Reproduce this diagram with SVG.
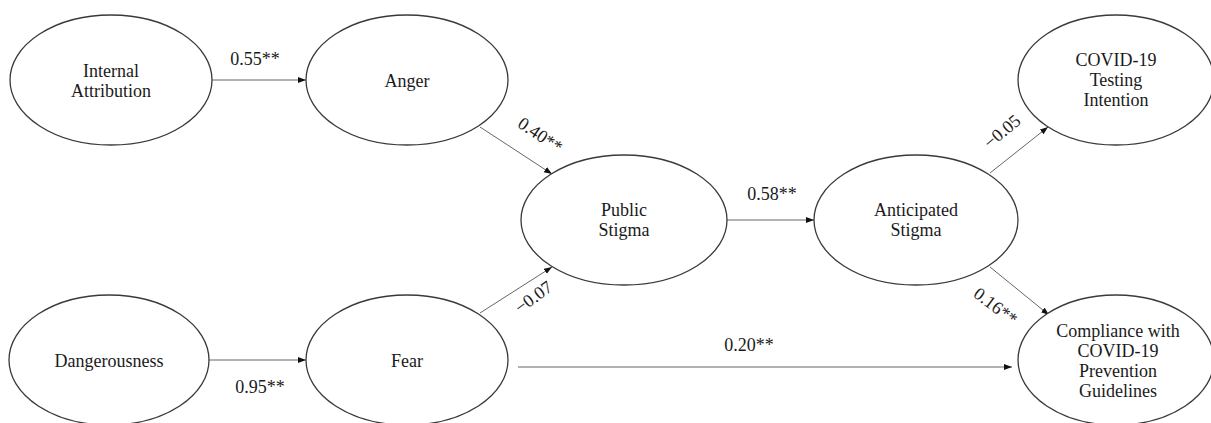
<svg xmlns="http://www.w3.org/2000/svg" width="1211" height="423" viewBox="0 0 1211 423">
<style>
.node ellipse{fill:#fff;stroke:#3a3a3a;stroke-width:1.3}
.node text{font-family:"Liberation Serif","Times New Roman",serif;font-size:18px;fill:#1a1a1a;text-anchor:middle}
.lbl{font-family:"Liberation Serif","Times New Roman",serif;font-size:18px;fill:#1a1a1a;text-anchor:middle}
.edge{stroke:#666;stroke-width:1;fill:none;marker-end:url(#arr)}
</style>
<defs>
<marker id="arr" markerWidth="9" markerHeight="7" refX="8" refY="3" orient="auto" markerUnits="userSpaceOnUse">
<path d="M0,0 L8,3 L0,6 z" fill="#111"/>
</marker>
</defs>
<rect width="1211" height="423" fill="#fff"/>
<g id="connectors">
<line class="edge" x1="212" y1="80" x2="306" y2="80"/>
<line class="edge" x1="209" y1="360" x2="306" y2="360"/>
<line class="edge" x1="480" y1="127" x2="552" y2="174"/>
<line class="edge" x1="480" y1="313" x2="552" y2="267"/>
<line class="edge" x1="727" y1="220" x2="814" y2="220"/>
<line class="edge" x1="990" y1="173" x2="1048" y2="127"/>
<line class="edge" x1="990" y1="267" x2="1049" y2="315"/>
<line class="edge" x1="518" y1="367" x2="1012" y2="367"/>
<text class="lbl" x="255" y="65">0.55**</text>
<text class="lbl" x="260" y="393">0.95**</text>
<text class="lbl" x="537" y="140" transform="rotate(34 537 140)">0.40**</text>
<text class="lbl" x="537" y="302" transform="rotate(-36 537 302)">−0.07</text>
<text class="lbl" x="772" y="200">0.58**</text>
<text class="lbl" x="1006" y="136" transform="rotate(-40 1006 136)">−0.05</text>
<text class="lbl" x="992" y="311" transform="rotate(37 992 311)">0.16**</text>
<text class="lbl" x="749" y="351">0.20**</text>
</g>
<g id="internal" class="node">
<ellipse cx="111" cy="80" rx="101" ry="65"/>
<text x="111" y="77">Internal</text>
<text x="111" y="97">Attribution</text>
</g>
<g id="anger" class="node">
<ellipse cx="407" cy="80" rx="101" ry="65"/>
<text x="407" y="87">Anger</text>
</g>
<g id="dangerousness" class="node">
<ellipse cx="109" cy="360" rx="100" ry="65"/>
<text x="109" y="367">Dangerousness</text>
</g>
<g id="fear" class="node">
<ellipse cx="407" cy="360" rx="101" ry="65"/>
<text x="407" y="367">Fear</text>
</g>
<g id="public" class="node">
<ellipse cx="624" cy="220" rx="103" ry="65"/>
<text x="624" y="216">Public</text>
<text x="624" y="236">Stigma</text>
</g>
<g id="anticipated" class="node">
<ellipse cx="916" cy="220" rx="102" ry="65"/>
<text x="916" y="216">Anticipated</text>
<text x="916" y="236">Stigma</text>
</g>
<g id="testing" class="node">
<ellipse cx="1116" cy="80" rx="98" ry="65"/>
<text x="1116" y="66">COVID-19</text>
<text x="1116" y="86">Testing</text>
<text x="1116" y="106">Intention</text>
</g>
<g id="compliance" class="node">
<ellipse cx="1116" cy="360" rx="98" ry="65"/>
<text x="1118" y="337">Compliance with</text>
<text x="1118" y="357">COVID-19</text>
<text x="1118" y="377">Prevention</text>
<text x="1118" y="397">Guidelines</text>
</g>
</svg>
